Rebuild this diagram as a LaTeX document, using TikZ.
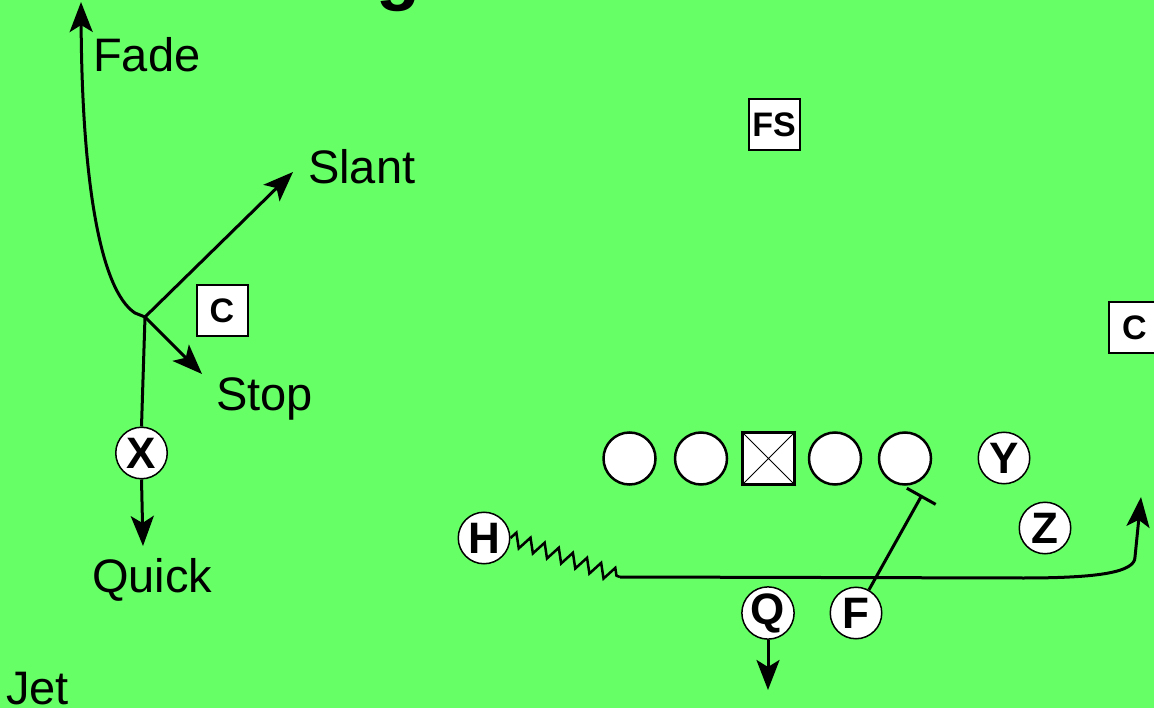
\documentclass[tikz,border=0pt]{standalone}
\usepackage{fontspec}
\setmainfont{Liberation Sans}
\usetikzlibrary{arrows.meta,decorations.pathmorphing}
\definecolor{field}{RGB}{102,255,102}
\begin{document}
\begin{tikzpicture}[x=1pt,y=-1pt,
  player/.style={circle, draw, line width=1.5pt, fill=white, minimum size=51.5pt, inner sep=0pt, font=\fontsize{44}{44}\selectfont\bfseries},
  lineman/.style={circle, draw, line width=2.5pt, fill=white, minimum size=52pt, inner sep=0pt},
  centerbox/.style={rectangle, draw, line width=2.5pt, fill=white, minimum size=52pt, inner sep=0pt},
  defender/.style={rectangle, draw, line width=2pt, fill=white, minimum size=51pt, inner sep=0pt, font=\fontsize{34}{34}\selectfont\bfseries},
  route/.style={line width=3pt, -{Stealth[length=30pt,width=23pt,inset=7pt]}},
  plain/.style={line width=3pt},
  lbl/.style={inner sep=0pt, anchor=base west, font=\fontsize{47}{47}\selectfont}]
\clip (0,0) rectangle (1154,708);
\useasboundingbox (0,0) rectangle (1154,708);
\fill[field] (0,0) rectangle (1154,708);

% partial title
\node[anchor=base, inner sep=0pt, font=\fontsize{72}{72}\selectfont\bfseries] (title) at (398,-3) {g};

% defenders
\node[defender] (FS) at (774,125) {FS};
\node[defender] (CL) at (222,311) {C};
\node[defender] (CR) at (1134.5,328) {C};

% offensive line
\node[lineman] (LT) at (629.5,458.5) {};
\node[lineman] (LG) at (701,458.5) {};
\node[centerbox] (CEN) at (768.5,458.5) {};
\draw[line width=1pt] (CEN.north west) -- (CEN.south east) (CEN.north east) -- (CEN.south west);
\node[lineman] (RG) at (835,458.5) {};
\node[lineman] (RT) at (905,458.5) {};

% skill players
\node[player] (X) at (141.5,453) {X};
\node[player] (H) at (484,538) {H};
\node[player] (Q) at (768,613) {Q};
\node[player] (F) at (856,613) {F};
\node[player] (Y) at (1004,458) {Y};
\node[player] (Z) at (1045,528) {Z};

% X routes
\coordinate (br) at (145,317);
\coordinate (hook) at (135,313);
\coordinate (fadeend) at (81,2);
\coordinate (slantend) at (293,172);
\coordinate (stopend) at (202,374);
\coordinate (quickend) at (143,546);
\draw[plain] (X.north) -- (br);
\draw[route] (br) -- (hook) .. controls (100,290) and (82,180) .. (fadeend);
\draw[route] (br) -- (slantend);
\draw[route] (br) -- (stopend);
\draw[route] (X.south) -- (quickend);

% Q route
\coordinate (qend) at (768,690);
\draw[route] (Q) -- (qend);

% F block
\coordinate (fblock) at (922,495);
\draw[line width=3pt, -{Bar[width=33pt]}] (F) -- (fblock);

% H jet motion
\coordinate (hz) at (620,577);
\coordinate (hc) at (1023,578);
\coordinate (hv) at (1135,557);
\coordinate (hend) at (1141,497);
\draw[line width=2.5pt, decorate, decoration={zigzag, segment length=15pt, amplitude=7pt}] (H.east) -- (hz);
\draw[route] (hz) -- (hc) .. controls (1100,578) and (1135,572) .. (hv) -- (hend);

% labels
\node[lbl] (lfade) at (93,72) {Fade};
\node[lbl] (lslant) at (308,184) {Slant};
\node[lbl] (lstop) at (216,410) {Stop};
\node[lbl] (lquick) at (92,592) {Quick};
\node[lbl] (ljet) at (6,704) {Jet};
\end{tikzpicture}
\end{document}
